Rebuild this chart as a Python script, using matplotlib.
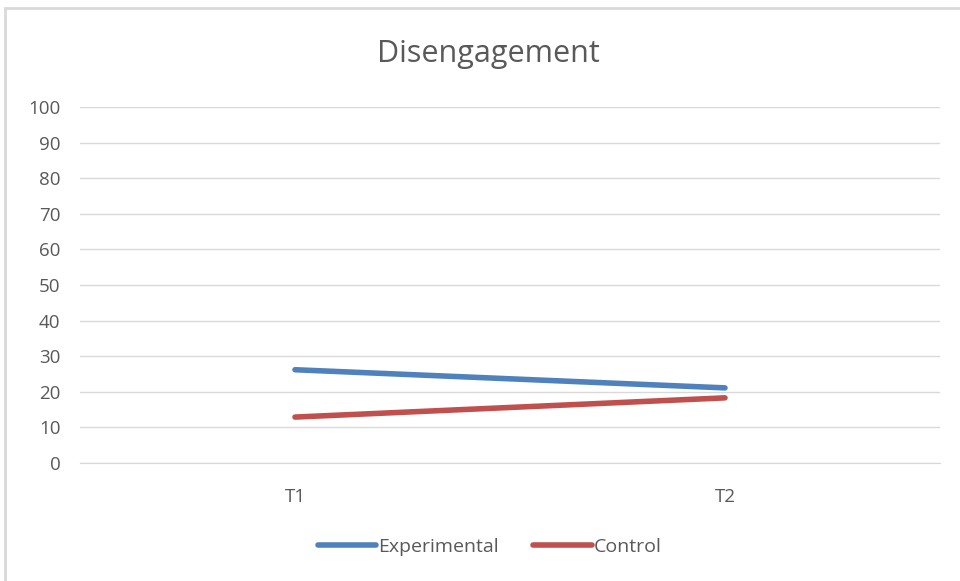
import matplotlib
matplotlib.use('Agg')
import matplotlib.pyplot as plt
from matplotlib.patches import Rectangle

plt.rcParams['font.family'] = ['Open Sans', 'DejaVu Sans']

# 데이터
categories = ['T1', 'T2']
experimental = [26.2, 21.1]
control = [12.9, 18.3]
yticks = list(range(0, 101, 10))

fig = plt.figure(figsize=(9.6, 5.81), dpi=100)
# 차트 영역 테두리
fig.patches.append(Rectangle((5 / 960, -0.1), 1.1, 1 - 8 / 581 + 0.1, transform=fig.transFigure,
                             fill=False, edgecolor='#d9d9d9', linewidth=2))

ax = fig.add_axes([80 / 960, 1 - 463 / 581, 860 / 960, (463 - 107) / 581])
x = range(len(categories))
ax.plot(x, experimental, color='#4f81bd', linewidth=4, solid_capstyle='round', label='Experimental')
ax.plot(x, control, color='#c0504d', linewidth=4, solid_capstyle='round', label='Control')

ax.set_xlim(-0.5, 1.5)
ax.set_ylim(0, 100)
ax.set_yticks(yticks)
ax.set_xticks(list(x))
ax.set_xticklabels(categories)
ax.grid(axis='y', color='#d9d9d9', linewidth=1)
ax.set_axisbelow(True)
for s in ['top', 'right', 'left']:
    ax.spines[s].set_visible(False)
ax.spines['bottom'].set_color('#d9d9d9')
ax.tick_params(length=0, labelsize=13.5, labelcolor='#595959')
ax.tick_params(axis='y', pad=14)
ax.tick_params(axis='x', pad=18)

fig.text(488 / 960, 1 - 54 / 581, 'Disengagement', ha='center', va='center', fontsize=22, color='#595959')

ax.legend(loc='center', bbox_to_anchor=(0.51, 1 - 547 / 581), bbox_transform=fig.transFigure, ncol=2,
          frameon=False, fontsize=14, labelcolor='#595959', handlelength=3, handletextpad=0.1, columnspacing=1.8)

fig.savefig('out.png', dpi=100)
